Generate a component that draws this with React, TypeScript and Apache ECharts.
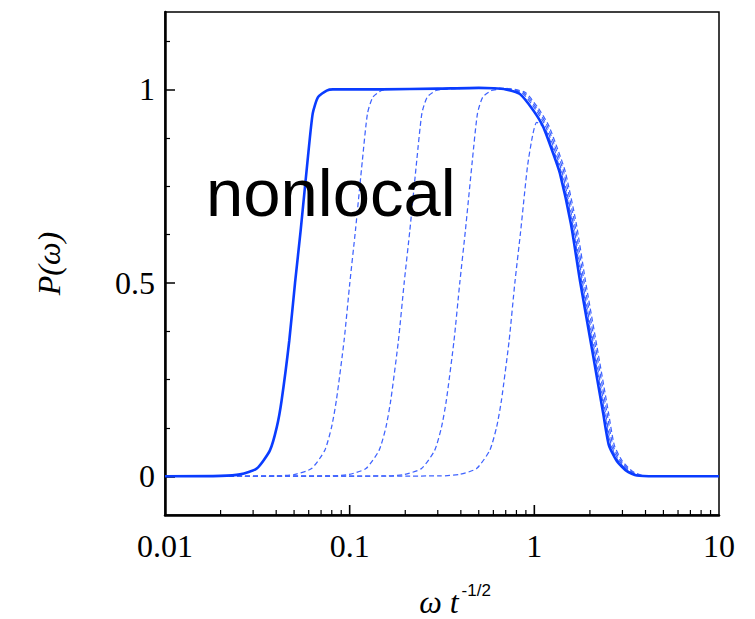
import { useEffect, useRef } from 'react';
import * as echarts from 'echarts';

// P(omega) curves: [omega t^-1/2, P]
const solidCurve: number[][] = [
  [0.01, 0], [0.02, 0.001], [0.0255, 0.005], [0.0314, 0.02], [0.037, 0.067], [0.0403, 0.127],
  [0.0428, 0.196], [0.0471, 0.351], [0.0506, 0.5], [0.0543, 0.636], [0.0592, 0.817],
  [0.0631, 0.938], [0.0674, 0.98], [0.0751, 0.997], [0.0812, 1.0], [0.15, 1.0], [0.3, 1.002],
  [0.5, 1.004], [0.6, 1.003], [0.7, 1.0], [0.8356, 0.988], [0.986, 0.946], [1.117, 0.903],
  [1.266, 0.834], [1.376, 0.783], [1.5785, 0.652], [1.766, 0.506], [2.0428, 0.334],
  [2.3605, 0.162], [2.535, 0.08], [2.801, 0.039], [3.172, 0.013], [3.594, 0.002], [4.5, 0], [10, 0],
];

const dashed1: number[][] = [
  [0.01, 0], [0.04, 0.001], [0.0505, 0.005], [0.0622, 0.02], [0.0733, 0.067], [0.0798, 0.127],
  [0.0847, 0.196], [0.0933, 0.351], [0.1002, 0.5], [0.1075, 0.636], [0.1172, 0.817],
  [0.1249, 0.938], [0.1335, 0.98], [0.1487, 0.997], [0.1608, 1.0], [0.3, 1.002], [0.5, 1.004],
  [0.6, 1.003], [0.7, 1.001], [0.861, 0.99], [1.016, 0.948], [1.151, 0.905], [1.304, 0.836],
  [1.417, 0.785], [1.626, 0.652], [1.819, 0.506], [2.104, 0.334], [2.431, 0.162], [2.611, 0.08],
  [2.885, 0.039], [3.267, 0.013], [3.702, 0.002], [4.635, 0], [10, 0],
];

const dashed2: number[][] = [
  [0.01, 0], [0.078, 0.001], [0.0995, 0.005], [0.1225, 0.02], [0.1443, 0.067], [0.1572, 0.127],
  [0.1669, 0.196], [0.1837, 0.351], [0.1973, 0.5], [0.2118, 0.636], [0.2309, 0.817],
  [0.2461, 0.938], [0.2629, 0.98], [0.2929, 0.997], [0.3167, 1.0], [0.5, 1.004], [0.6, 1.003],
  [0.7, 1.002], [0.877, 0.991], [1.035, 0.949], [1.173, 0.906], [1.329, 0.837], [1.445, 0.786],
  [1.657, 0.652], [1.854, 0.506], [2.145, 0.334], [2.479, 0.162], [2.662, 0.08], [2.941, 0.039],
  [3.331, 0.013], [3.774, 0.002], [4.725, 0], [10, 0],
];

const dashed3: number[][] = [
  [0.01, 0], [0.156, 0.001], [0.1989, 0.005], [0.2449, 0.02], [0.2886, 0.067], [0.3143, 0.127],
  [0.3338, 0.196], [0.3674, 0.351], [0.3947, 0.5], [0.4235, 0.636], [0.4618, 0.817],
  [0.4922, 0.938], [0.5257, 0.98], [0.5858, 0.997], [0.6334, 1.0], [0.7, 1.003], [0.894, 0.992],
  [1.055, 0.95], [1.195, 0.907], [1.355, 0.838], [1.472, 0.787], [1.689, 0.652], [1.89, 0.506],
  [2.186, 0.334], [2.526, 0.162], [2.712, 0.08], [2.997, 0.039], [3.394, 0.013], [3.846, 0.002],
  [4.815, 0], [10, 0],
];

const dashed4: number[][] = [
  [0.01, 0], [0.31, 0.001], [0.3953, 0.005], [0.4867, 0.02], [0.5735, 0.067], [0.6247, 0.127],
  [0.6634, 0.196], [0.7301, 0.35], [0.7843, 0.5], [0.8417, 0.63], [0.9176, 0.8], [0.978, 0.88],
  [1.03, 0.915], [1.139, 0.9], [1.291, 0.834], [1.404, 0.783], [1.61, 0.652], [1.801, 0.506],
  [2.084, 0.334], [2.408, 0.162], [2.586, 0.08], [2.857, 0.039], [3.235, 0.013], [3.666, 0.002],
  [4.59, 0], [10, 0],
];

const xMajorTicks = [0.1, 1];
const xMinorTicks = [
  0.02, 0.03, 0.04, 0.05, 0.06, 0.07, 0.08, 0.09,
  0.2, 0.3, 0.4, 0.5, 0.6, 0.7, 0.8, 0.9,
  2, 3, 4, 5, 6, 7, 8, 9,
];
const yMajorTicks = [0, 0.5, 1];
const yMinorTicks = [0.125, 0.25, 0.375, 0.625, 0.75, 0.875, 1.125];

const Y_MIN = -0.1;
const Y_MAX = 1.2;

const xLabel = (v: number) => {
  if (v >= 1) return String(Math.round(v));
  if (Math.abs(v - 0.1) < 1e-9) return '0.1';
  if (Math.abs(v - 0.01) < 1e-9) return '0.01';
  return String(v);
};

const tickRenderer = (len: number, width: number) => (_params: any, api: any) => {
  const p = api.coord([api.value(0), Y_MIN]);
  return {
    type: 'line',
    shape: { x1: p[0], y1: p[1], x2: p[0], y2: p[1] - len },
    style: { stroke: '#000', lineWidth: width },
  };
};

export default function App() {
  const ref = useRef<HTMLDivElement>(null);
  useEffect(() => {
    const chart = echarts.init(ref.current!, null, { renderer: 'svg' });
    const dashedStyle = { color: '#3f63ff', width: 1.25, type: [5, 3] as number[] };
    const lineCommon = { type: 'line', showSymbol: false, smooth: 0.2 };
    chart.setOption({
      animation: false,
      backgroundColor: '#fff',
      grid: {
        left: 165, right: 36, top: 12, bottom: 104,
        outerBoundsMode: 'none',
        containLabel: false,
        show: true, borderColor: '#000', borderWidth: 1.5, backgroundColor: 'transparent',
      },
      xAxis: {
        type: 'log', logBase: 10, min: 0.01, max: 10, position: 'bottom',
        axisLine: { show: true, onZero: false, lineStyle: { color: '#000', width: 2.5 } },
        axisTick: { show: false },
        axisLabel: {
          formatter: xLabel, fontFamily: 'Liberation Serif', fontSize: 32, color: '#000', margin: 15,
        },
        splitLine: { show: false },
        minorTick: { show: false },
        name: '{w|ω t}{s|-1/2}',
        nameLocation: 'middle',
        nameGap: 72,
        nameTextStyle: {
          padding: [0, 0, 0, 26],
          rich: {
            w: { fontFamily: 'Liberation Serif', fontStyle: 'italic', fontSize: 32, lineHeight: 30, color: '#000' },
            s: { fontFamily: 'Liberation Sans', fontSize: 17, lineHeight: 6, color: '#000', padding: [0, 0, 24, 3] },
          },
        },
      },
      yAxis: [
        {
          type: 'value', min: Y_MIN, max: Y_MAX, position: 'left',
          axisLine: { show: true, onZero: false, lineStyle: { color: '#000', width: 2.5 } },
          axisTick: { show: true, inside: true, length: 10, customValues: yMajorTicks, lineStyle: { color: '#000', width: 1.5 } },
          axisLabel: {
            customValues: yMajorTicks, formatter: (v: number) => String(v),
            fontFamily: 'Liberation Serif', fontSize: 32, color: '#000', margin: 10,
          },
          splitLine: { show: false },
          name: 'P(ω)',
          nameLocation: 'middle',
          nameGap: 100,
          nameRotate: 90,
          nameTextStyle: { fontFamily: 'Liberation Serif', fontStyle: 'italic', fontSize: 32, color: '#000' },
        },
        {
          type: 'value', min: Y_MIN, max: Y_MAX, position: 'left',
          axisLine: { show: false, onZero: false },
          axisTick: { show: true, inside: true, length: 5, customValues: yMinorTicks, lineStyle: { color: '#000', width: 1.2 } },
          axisLabel: { show: false },
          splitLine: { show: false },
        },
      ],
      graphic: [
        {
          type: 'text', left: 206, top: 159,
          style: { text: 'nonlocal', fontFamily: 'Liberation Sans', fontSize: 67, fill: '#000' },
          z: 100,
        },
      ],
      series: [
        { ...lineCommon, data: dashed1, lineStyle: dashedStyle },
        { ...lineCommon, data: dashed2, lineStyle: dashedStyle },
        { ...lineCommon, data: dashed3, lineStyle: dashedStyle },
        { ...lineCommon, data: dashed4, lineStyle: dashedStyle },
        { ...lineCommon, data: solidCurve, lineStyle: { color: '#0a3cff', width: 2.6 } },
        {
          type: 'custom', clip: false, silent: true, z: 10,
          data: xMajorTicks.map((v) => [v, Y_MIN]),
          renderItem: tickRenderer(10, 1.6),
        },
        {
          type: 'custom', clip: false, silent: true, z: 10,
          data: xMinorTicks.map((v) => [v, Y_MIN]),
          renderItem: tickRenderer(5, 1.2),
        },
      ],
    });
    return () => chart.dispose();
  }, []);
  return <div ref={ref} style={{ position: 'absolute', left: 0, top: 0, width: 755, height: 619 }} />;
}
